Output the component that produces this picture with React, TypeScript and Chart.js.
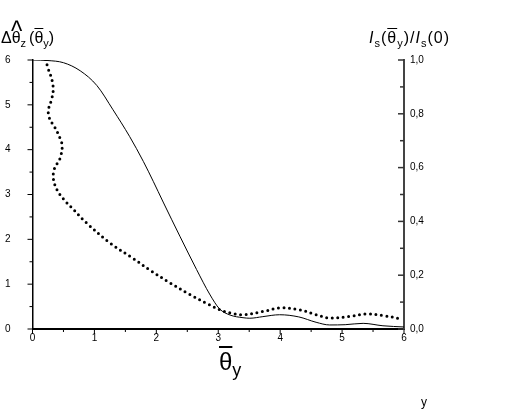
import { useEffect, useRef } from 'react';
import { Chart, registerables } from 'chart.js';

Chart.register(...registerables);

// dotted curve: angular width (left axis) vs theta_y
const widthX = [0.21, 0.255, 0.31, 0.335, 0.31, 0.255, 0.28, 0.36, 0.44, 0.48, 0.44, 0.36, 0.335, 0.39, 0.5, 0.63, 0.87, 1.25, 1.62, 1.9, 2.22, 2.54, 2.86, 3.02, 3.19, 3.4, 3.72, 4.0, 4.31, 4.58, 4.8, 5.12, 5.39, 5.66, 5.98];
const widthY = [6.01, 5.8, 5.58, 5.35, 5.13, 4.87, 4.68, 4.5, 4.27, 4.08, 3.79, 3.6, 3.38, 3.12, 2.9, 2.71, 2.37, 1.92, 1.58, 1.31, 1.03, 0.77, 0.54, 0.43, 0.36, 0.32, 0.39, 0.47, 0.43, 0.32, 0.245, 0.28, 0.335, 0.3, 0.22];

// solid curve: normalised intensity (right axis)
const intensX = [0, 0.25, 0.5, 0.77, 1.04, 1.3, 1.57, 1.79, 1.95, 2.11, 2.38, 2.65, 2.86, 3.02, 3.19, 3.4, 3.51, 3.72, 3.99, 4.3, 4.58, 4.8, 5.05, 5.34, 5.66, 6.0];
const intensY = [1.0, 0.998, 0.99, 0.96, 0.905, 0.815, 0.715, 0.623, 0.549, 0.472, 0.345, 0.221, 0.13, 0.075, 0.052, 0.042, 0.04, 0.046, 0.053, 0.045, 0.025, 0.015, 0.016, 0.021, 0.012, 0.0075];

// axes
const xTicks = [0, 1, 2, 3, 4, 5, 6];
const xMinor = [0.5, 1.5, 2.5, 3.5, 4.5, 5.5];
const leftTicks = [0, 1, 2, 3, 4, 5, 6];
const leftMinor = [0.5, 1.5, 2.5, 3.5, 4.5, 5.5];
const rightTicks = [0, 0.2, 0.4, 0.6, 0.8, 1.0];
const rightLabels = ['0,0', '0,2', '0,4', '0,6', '0,8', '1,0'];
const rightMinor = [0.1, 0.3, 0.5, 0.7, 0.9];

const FONT = '"Liberation Sans", Arial, sans-serif';

// tick marks: outward on left/bottom, inward on the right axis
const tickMarks = {
  id: 'tickMarks',
  afterDraw(chart: any) {
    const { ctx, chartArea } = chart;
    const { x, y, yI } = chart.scales;
    ctx.save();
    ctx.strokeStyle = '#000';
    ctx.lineWidth = 1;
    const seg = (x1: number, y1: number, x2: number, y2: number) => {
      ctx.beginPath();
      ctx.moveTo(x1, y1);
      ctx.lineTo(x2, y2);
      ctx.stroke();
    };
    xTicks.forEach(v => { const p = x.getPixelForValue(v); seg(p, chartArea.bottom, p, chartArea.bottom + 5); });
    xMinor.forEach(v => { const p = x.getPixelForValue(v); seg(p, chartArea.bottom, p, chartArea.bottom + 3); });
    leftTicks.forEach(v => { const p = y.getPixelForValue(v); seg(chartArea.left - 5, p, chartArea.left, p); });
    leftMinor.forEach(v => { const p = y.getPixelForValue(v); seg(chartArea.left - 3, p, chartArea.left, p); });
    ctx.strokeStyle = '#333';
    ctx.lineWidth = 1.5;
    rightTicks.forEach(v => { const p = yI.getPixelForValue(v); seg(chartArea.right - 6, p, chartArea.right, p); });
    rightMinor.forEach(v => { const p = yI.getPixelForValue(v); seg(chartArea.right - 4, p, chartArea.right, p); });
    ctx.restore();
  },
};

export default function App() {
  const canvasRef = useRef<HTMLCanvasElement | null>(null);
  const chartRef = useRef<Chart | null>(null);

  useEffect(() => {
    if (!canvasRef.current) return;
    if (chartRef.current) chartRef.current.destroy();

    const tickFont = { family: FONT, size: 10 };

    chartRef.current = new Chart(canvasRef.current, {
      type: 'line',
      data: {
        datasets: [
          {
            label: 'I_s/I_s(0)',
            data: intensX.map((v, i) => ({ x: v, y: intensY[i] })),
            yAxisID: 'yI',
            borderColor: '#000',
            borderWidth: 1,
            pointRadius: 0,
            cubicInterpolationMode: 'monotone',
            fill: false,
          },
          {
            label: 'width',
            data: widthX.map((v, i) => ({ x: v, y: widthY[i] })),
            yAxisID: 'y',
            borderColor: '#000',
            borderWidth: 3,
            borderDash: [0, 5.5],
            borderCapStyle: 'round',
            pointRadius: 0,
            tension: 0.35,
            fill: false,
          },
        ],
      },
      options: {
        responsive: false,
        animation: false,
        layout: { padding: { top: 60, left: 0, right: 0, bottom: 0 } },
        plugins: {
          legend: { display: false },
          tooltip: { enabled: false },
          title: { display: false },
        },
        scales: {
          x: {
            type: 'linear',
            min: 0,
            max: 6,
            afterFit: (s: any) => { s.height = 81; },
            afterBuildTicks: (s: any) => { s.ticks = xTicks.map(v => ({ value: v })); },
            ticks: { color: '#000', font: tickFont, padding: 3, maxRotation: 0 },
            grid: { drawOnChartArea: false, drawTicks: false },
            border: { color: '#000', width: 2 },
          },
          y: {
            type: 'linear',
            position: 'left',
            min: 0,
            max: 6,
            afterFit: (s: any) => { s.width = 32.5; },
            afterBuildTicks: (s: any) => { s.ticks = leftTicks.map(v => ({ value: v })); },
            ticks: { color: '#000', font: tickFont, padding: 22 },
            grid: { drawOnChartArea: false, drawTicks: false },
            border: { color: '#000', width: 1.5 },
          },
          yI: {
            type: 'linear',
            position: 'right',
            min: 0,
            max: 1,
            afterFit: (s: any) => { s.width = 103; },
            afterBuildTicks: (s: any) => { s.ticks = rightTicks.map(v => ({ value: v })); },
            ticks: {
              color: '#000',
              font: tickFont,
              padding: 6,
              callback: (_v: any, i: number) => rightLabels[i],
            },
            grid: { drawOnChartArea: false, drawTicks: false },
            border: { color: '#444', width: 2 },
          },
        },
      },
      plugins: [tickMarks],
    } as any);

    return () => {
      if (chartRef.current) {
        chartRef.current.destroy();
        chartRef.current = null;
      }
    };
  }, []);

  const sub = { fontSize: 11, position: 'relative' as const, top: 4 };

  return (
    <div style={{ position: 'absolute', left: 0, top: 0, width: 507, height: 410, background: '#fff', fontFamily: FONT, color: '#000' }}>
      <canvas ref={canvasRef} width={507} height={410} style={{ position: 'absolute', left: 0, top: 0, width: 507, height: 410 }} />

      {/* left axis title */}
      <div style={{ position: 'absolute', left: 1, top: 30, fontSize: 16, lineHeight: '16px', whiteSpace: 'nowrap' }}>
        Δ
        <span style={{ position: 'relative' }}>
          θ
          <span style={{ position: 'absolute', left: -1, top: -13, fontSize: 16, transform: 'scale(1.5,1.9)', transformOrigin: 'left top' }}>^</span>
        </span>
        <span style={sub}>z</span>
        <span style={{ marginLeft: 3 }}>(</span>
        <span style={{ textDecoration: 'overline' }}>θ</span>
        <span style={sub}>y</span>)
      </div>

      {/* right axis title */}
      <div style={{ position: 'absolute', left: 369, top: 30, fontSize: 16, lineHeight: '16px', whiteSpace: 'nowrap', letterSpacing: 1 }}>
        <i>I</i>
        <span style={sub}>s</span>(
        <span style={{ textDecoration: 'overline' }}>θ</span>
        <span style={sub}>y</span>)/<i>I</i>
        <span style={sub}>s</span>(0)
      </div>

      {/* bottom axis title */}
      <div style={{ position: 'absolute', left: 219, top: 349, fontSize: 24, lineHeight: '26px', whiteSpace: 'nowrap' }}>
        <span style={{ textDecoration: 'overline' }}>θ</span>
        <span style={{ fontSize: 18, position: 'relative', top: 6 }}>y</span>
      </div>

      <div style={{ position: 'absolute', left: 421, top: 395, fontSize: 12, lineHeight: '14px' }}>y</div>
    </div>
  );
}
